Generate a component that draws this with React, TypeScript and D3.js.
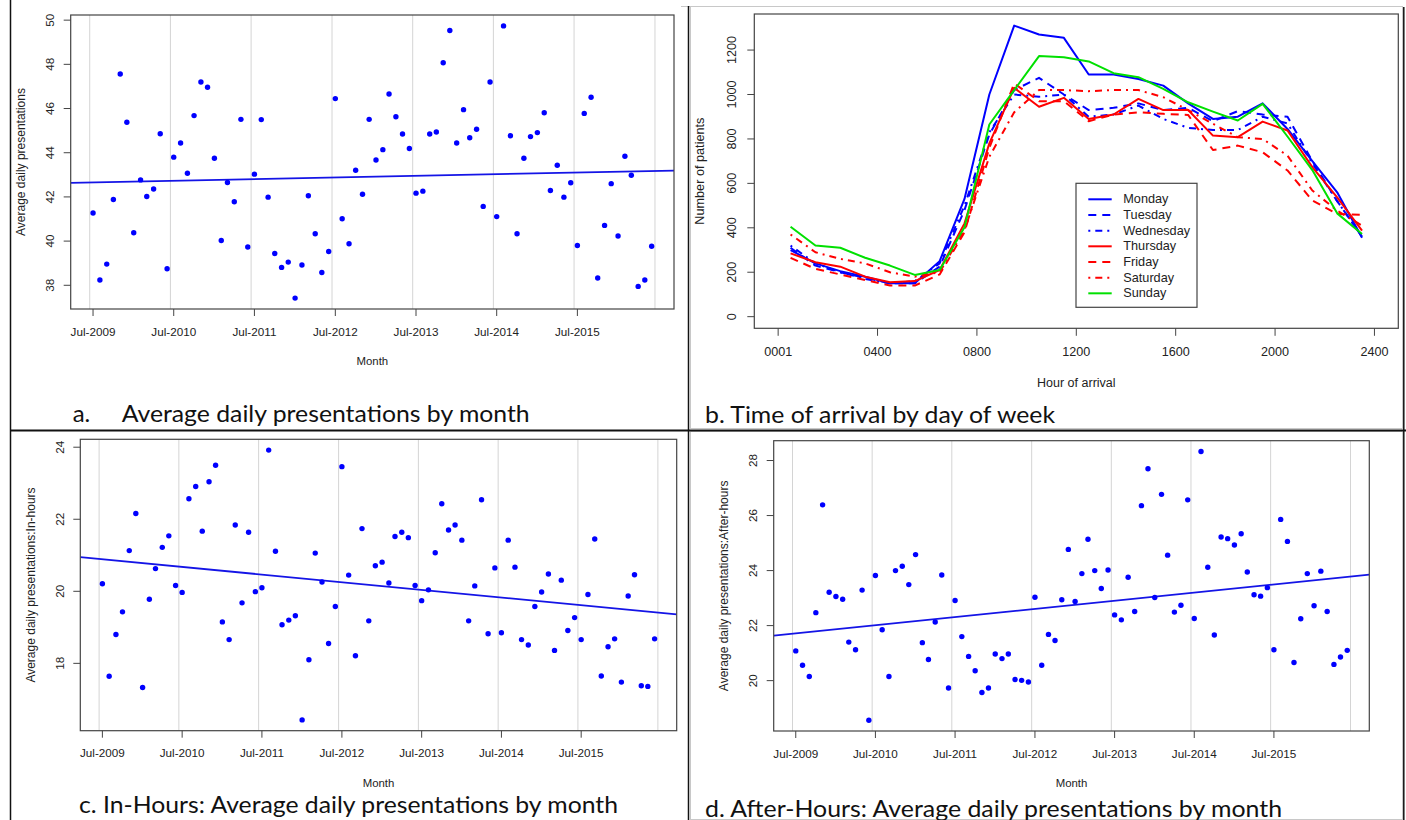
import React from 'react';
import * as d3 from 'd3';

// monthly series, Jul-2009 .. Jun-2016
const firstMonth = new Date(2009, 6, 1);
const yearTickLabels = ['Jul-2009', 'Jul-2010', 'Jul-2011', 'Jul-2012', 'Jul-2013', 'Jul-2014', 'Jul-2015'];

const dailyAll = [
    41.27, 38.24, 38.96, 41.88, 47.56, 45.38, 40.38, 42.77, 42.02, 42.36, 44.86, 38.75,
    43.8, 44.44, 43.07, 45.68, 47.2, 46.96, 43.75, 40.03, 42.65, 41.78, 45.51, 39.73,
    43.03, 45.5, 41.99, 39.44, 38.81, 39.05, 37.42, 38.92, 42.05, 40.33, 38.58, 39.53,
    46.45, 41.01, 39.88, 43.21, 42.12, 45.51, 43.67, 44.14, 46.66, 45.63, 44.85, 44.19,
    42.17, 42.26, 44.85, 44.94, 48.07, 49.53, 44.44, 45.95, 44.68, 45.06, 41.57, 47.2,
    41.11, 49.74, 44.77, 40.33, 43.75, 44.73, 44.91, 45.81, 42.29, 43.43, 41.99, 42.64,
    39.8, 45.78, 46.51, 38.33, 40.71, 42.6, 40.23, 43.84, 42.98, 37.95, 38.24, 39.77
];
const dailyInHours = [
    20.21, 17.64, 18.8, 19.43, 21.13, 22.16, 17.33, 19.78, 20.63, 21.22, 21.54, 20.16,
    19.97, 22.57, 22.91, 21.67, 23.04, 23.5, 19.15, 18.66, 21.84, 19.68, 21.64, 19.99,
    20.1, 23.92, 21.11, 19.07, 19.2, 19.32, 16.43, 18.1, 21.06, 20.26, 18.55, 19.58,
    23.46, 20.45, 18.21, 21.74, 19.18, 20.71, 20.81, 20.23, 21.52, 21.64, 21.49, 20.16,
    19.74, 20.04, 21.07, 22.43, 21.7, 21.84, 21.42, 19.18, 20.15, 22.54, 18.82, 20.65,
    18.85, 21.42, 20.67, 18.66, 18.51, 19.58, 19.98, 20.48, 18.36, 20.31, 18.91, 19.27,
    18.66, 19.91, 21.45, 17.65, 18.46, 18.68, 17.48, 19.87, 20.46, 17.38, 17.36, 18.68
];
const dailyAfterHours = [
    21.08, 20.56, 20.15, 22.47, 26.39, 23.21, 23.06, 22.96, 21.4, 21.12, 23.29, 18.56,
    23.82, 21.85, 20.15, 24.0, 24.16, 23.49, 24.58, 21.38, 20.77, 22.13, 23.84, 19.73,
    22.91, 21.6, 20.88, 20.36, 19.57, 19.73, 20.97, 20.8, 20.97, 20.04, 20.01, 19.95,
    23.03, 20.56, 21.68, 21.46, 22.94, 24.77, 22.88, 23.89, 25.14, 24.0, 23.35, 24.02,
    22.39, 22.21, 23.76, 22.51, 26.36, 27.7, 23.02, 26.77, 24.56, 22.49, 22.74, 26.57,
    22.26, 28.33, 24.12, 21.66, 25.22, 25.16, 24.93, 25.34, 23.95, 23.12, 23.07, 23.38,
    21.12, 25.86, 25.06, 20.66, 22.25, 23.89, 22.72, 23.98, 22.51, 20.59, 20.86, 21.1
];
// fitted line, value at first and last month
const trendAll = [42.66, 43.17];
const trendInHours = [20.89, 19.42];
const trendAfterHours = [21.72, 23.77];

const ticksAll = [38, 40, 42, 44, 46, 48, 50];
const ticksInHours = [18, 20, 22, 24];
const ticksAfterHours = [20, 22, 24, 26, 28];

// hourly arrivals, one value per hour (mid-hour)
const hourTickLabels = ['0001', '0400', '0800', '1200', '1600', '2000', '2400'];
const patientTicks = [0, 200, 400, 600, 800, 1000, 1200];
const dayNames = ['Monday', 'Tuesday', 'Wednesday', 'Thursday', 'Friday', 'Saturday', 'Sunday'];
const monday = [300, 240, 205, 180, 150, 150, 250, 530, 1000, 1310, 1270, 1255, 1090, 1090, 1070, 1040, 960, 890, 900, 960, 845, 700, 560, 355];
const tuesday = [310, 230, 200, 175, 150, 150, 225, 480, 820, 1020, 1075, 1000, 930, 940, 960, 930, 940, 880, 925, 910, 900, 700, 520, 360];
const wednesday = [320, 240, 200, 170, 150, 160, 240, 500, 830, 1000, 990, 1000, 900, 910, 950, 890, 850, 840, 840, 900, 870, 690, 520, 360];
const thursday = [285, 245, 225, 180, 155, 160, 210, 420, 780, 1030, 945, 985, 890, 910, 980, 930, 930, 815, 808, 878, 838, 673, 537, 387];
const friday = [265, 215, 190, 165, 140, 140, 190, 380, 760, 1050, 970, 970, 880, 910, 920, 913, 908, 750, 770, 740, 658, 523, 462, 458];
const saturday = [370, 290, 260, 240, 200, 180, 200, 390, 720, 920, 1020, 1020, 1015, 1020, 1020, 988, 930, 868, 808, 800, 725, 568, 477, 410];
const sunday = [405, 320, 310, 265, 230, 188, 210, 402, 865, 1020, 1173, 1168, 1149, 1096, 1078, 1025, 965, 923, 883, 958, 811, 660, 465, 372];
const daySeries = [monday, tuesday, wednesday, thursday, friday, saturday, sunday];

const AXIS_FONT = '"Liberation Sans", Arial, sans-serif';
const CAPTION_FONT = 'Lato, "Open Sans", sans-serif';
const TEXT = '#222';
const BOX = '#444';

const dayStyle = [
    { color: '#0000ff', dash: null },
    { color: '#0000ff', dash: '8,6' },
    { color: '#0000ff', dash: '2,5,7,5' },
    { color: '#ff0000', dash: null },
    { color: '#ff0000', dash: '8,6' },
    { color: '#ff0000', dash: '2,5,7,5' },
    { color: '#00e000', dash: null }
];

function ScatterPanel({ id, values, trend, yTicks, yLabel, box }) {
    const dates = values.map((_, i) => d3.timeMonth.offset(firstMonth, i));
    const t0 = +dates[0];
    const t1 = +dates[dates.length - 1];
    const padX = (t1 - t0) * 0.04;
    const x = d3
        .scaleTime()
        .domain([new Date(t0 - padX), new Date(t1 + padX)])
        .range([box.left, box.right]);
    const [lo, hi] = d3.extent(values);
    const padY = (hi - lo) * 0.04;
    const y = d3
        .scaleLinear()
        .domain([lo - padY, hi + padY])
        .range([box.bottom, box.top]);

    const trendAt = d3.scaleLinear().domain([t0, t1]).range(trend);
    const [d0, d1] = x.domain();

    const tickDates = yearTickLabels.map((_, i) => d3.timeMonth.offset(firstMonth, 12 * i));
    const gridDates = d3
        .range(yearTickLabels.length + 1)
        .map((i) => d3.timeDay.offset(d3.timeMonth.offset(firstMonth, 12 * i), -15));

    const midX = (box.left + box.right) / 2;
    const midY = (box.top + box.bottom) / 2;

    return (
        <g>
            <clipPath id={id}>
                <rect x={box.left} y={box.top} width={box.right - box.left} height={box.bottom - box.top} />
            </clipPath>
            <g clipPath={`url(#${id})`}>
                {gridDates.map((d, i) => (
                    <line key={i} x1={x(d)} x2={x(d)} y1={box.top} y2={box.bottom} stroke="#d4d4d4" strokeWidth={1} />
                ))}
                <line
                    x1={x(d0)}
                    x2={x(d1)}
                    y1={y(trendAt(+d0))}
                    y2={y(trendAt(+d1))}
                    stroke="#1414e6"
                    strokeWidth={1.8}
                />
                {values.map((v, i) => (
                    <circle key={i} cx={x(dates[i])} cy={y(v)} r={2.7} fill="#0000ff" />
                ))}
            </g>
            <rect
                x={box.left}
                y={box.top}
                width={box.right - box.left}
                height={box.bottom - box.top}
                fill="none"
                stroke={BOX}
                strokeWidth={1.2}
            />
            {yTicks.map((t) => (
                <g key={t}>
                    <line x1={box.left - 7} x2={box.left} y1={y(t)} y2={y(t)} stroke={BOX} />
                    <text
                        transform={`translate(${box.left - 21},${y(t)}) rotate(-90)`}
                        textAnchor="middle"
                        dominantBaseline="central"
                        fontFamily={AXIS_FONT}
                        fontSize={11.7}
                        fill={TEXT}
                    >
                        {t}
                    </text>
                </g>
            ))}
            {tickDates.map((d, i) => (
                <g key={i}>
                    <line x1={x(d)} x2={x(d)} y1={box.bottom} y2={box.bottom + 7} stroke={BOX} />
                    <text
                        x={x(d)}
                        y={box.bottom + 22}
                        textAnchor="middle"
                        dominantBaseline="central"
                        fontFamily={AXIS_FONT}
                        fontSize={11.7}
                        fill={TEXT}
                    >
                        {yearTickLabels[i]}
                    </text>
                </g>
            ))}
            <text
                transform={`translate(${box.left - 49.5},${midY}) rotate(-90)`}
                textAnchor="middle"
                dominantBaseline="central"
                fontFamily={AXIS_FONT}
                fontSize={12}
                fill={TEXT}
            >
                {yLabel}
            </text>
            <text
                x={midX}
                y={box.bottom + 52}
                textAnchor="middle"
                dominantBaseline="central"
                fontFamily={AXIS_FONT}
                fontSize={11.4}
                fill={TEXT}
            >
                Month
            </text>
        </g>
    );
}

function ArrivalPanel({ box }) {
    const x = d3
        .scaleLinear()
        .domain([-0.96, 24.96])
        .range([box.left, box.right]);
    const maxV = d3.max(daySeries, (s) => d3.max(s));
    const y = d3
        .scaleLinear()
        .domain([-maxV * 0.04, maxV * 1.04])
        .range([box.bottom, box.top]);
    const line = d3
        .line()
        .x((d, i) => x(i + 0.5))
        .y((d) => y(d));

    const hourTicks = hourTickLabels.map((_, i) => i * 4);
    const legend = { left: 1076, top: 183.3, right: 1197, bottom: 307.3 };

    return (
        <g>
            {daySeries.map((s, i) => (
                <path
                    key={dayNames[i]}
                    d={line(s)}
                    fill="none"
                    stroke={dayStyle[i].color}
                    strokeWidth={2}
                    strokeDasharray={dayStyle[i].dash || undefined}
                    strokeLinejoin="round"
                />
            ))}
            <rect
                x={box.left}
                y={box.top}
                width={box.right - box.left}
                height={box.bottom - box.top}
                fill="none"
                stroke={BOX}
                strokeWidth={1.2}
            />
            {patientTicks.map((t) => (
                <g key={t}>
                    <line x1={box.left - 7} x2={box.left} y1={y(t)} y2={y(t)} stroke={BOX} />
                    <text
                        transform={`translate(${box.left - 22.6},${y(t)}) rotate(-90)`}
                        textAnchor="middle"
                        dominantBaseline="central"
                        fontFamily={AXIS_FONT}
                        fontSize={12.6}
                        fill={TEXT}
                    >
                        {t}
                    </text>
                </g>
            ))}
            {hourTicks.map((h, i) => (
                <g key={h}>
                    <line x1={x(h)} x2={x(h)} y1={box.bottom} y2={box.bottom + 7.5} stroke={BOX} />
                    <text
                        x={x(h)}
                        y={box.bottom + 23.4}
                        textAnchor="middle"
                        dominantBaseline="central"
                        fontFamily={AXIS_FONT}
                        fontSize={12.6}
                        fill={TEXT}
                    >
                        {hourTickLabels[i]}
                    </text>
                </g>
            ))}
            <text
                transform={`translate(${box.left - 54},${(box.top + box.bottom) / 2}) rotate(-90)`}
                textAnchor="middle"
                dominantBaseline="central"
                fontFamily={AXIS_FONT}
                fontSize={12.7}
                fill={TEXT}
            >
                Number of patients
            </text>
            <text
                x={(box.left + box.right) / 2}
                y={box.bottom + 55}
                textAnchor="middle"
                dominantBaseline="central"
                fontFamily={AXIS_FONT}
                fontSize={12.5}
                fill={TEXT}
            >
                Hour of arrival
            </text>
            <rect
                x={legend.left}
                y={legend.top}
                width={legend.right - legend.left}
                height={legend.bottom - legend.top}
                fill="#fff"
                stroke={BOX}
                strokeWidth={1.2}
            />
            {dayNames.map((name, i) => {
                const ly = legend.top + 16 + i * 15.67;
                return (
                    <g key={name}>
                        <line
                            x1={legend.left + 12.3}
                            x2={legend.left + 35.7}
                            y1={ly}
                            y2={ly}
                            stroke={dayStyle[i].color}
                            strokeWidth={2}
                            strokeDasharray={dayStyle[i].dash || undefined}
                        />
                        <text
                            x={legend.left + 47.3}
                            y={ly}
                            dominantBaseline="central"
                            fontFamily={AXIS_FONT}
                            fontSize={12.7}
                            fill={TEXT}
                        >
                            {name}
                        </text>
                    </g>
                );
            })}
        </g>
    );
}

function Caption({ x, y, width, children }) {
    return (
        <text
            x={x}
            y={y}
            fontFamily={CAPTION_FONT}
            fontSize={24}
            fill="#111"
            textLength={width}
            lengthAdjust={width ? 'spacingAndGlyphs' : undefined}
        >
            {children}
        </text>
    );
}

export default function App() {
    return (
        <svg
            width={1406}
            height={820}
            style={{ position: 'absolute', left: 0, top: 0, display: 'block', background: '#fff' }}
        >
            <rect x={0} y={0} width={1406} height={820} fill="#fff" />

            {/* panel image borders */}
            <line x1={681} x2={1403} y1={6.5} y2={6.5} stroke="#c8c8c8" />
            <rect x={690.5} y={6.5} width={712} height={422} fill="none" stroke="#c8c8c8" />
            <rect x={690.5} y={431.5} width={712} height={388} fill="none" stroke="#c8c8c8" />

            <ScatterPanel
                id="clip-a"
                values={dailyAll}
                trend={trendAll}
                yTicks={ticksAll}
                yLabel="Average daily presentations"
                box={{ left: 70.7, top: 15, right: 674, bottom: 309 }}
            />
            <ArrivalPanel box={{ left: 754.3, top: 14, right: 1398.3, bottom: 328.3 }} />
            <ScatterPanel
                id="clip-c"
                values={dailyInHours}
                trend={trendInHours}
                yTicks={ticksInHours}
                yLabel="Average daily presentations:In-hours"
                box={{ left: 80.3, top: 439.3, right: 676.7, bottom: 730.7 }}
            />
            <ScatterPanel
                id="clip-d"
                values={dailyAfterHours}
                trend={trendAfterHours}
                yTicks={ticksAfterHours}
                yLabel="Average daily presentations:After-hours"
                box={{ left: 773.7, top: 440.7, right: 1369.3, bottom: 731 }}
            />

            <Caption x={72.7} y={421.5}>a.</Caption>
            <Caption x={121.7} y={421.5} width={408}>Average daily presentations by month</Caption>
            <Caption x={705} y={422.5} width={350}>b. Time of arrival by day of week</Caption>
            <Caption x={79} y={813.3} width={539}>c. In-Hours: Average daily presentations by month</Caption>
            <Caption x={705} y={816.5} width={577}>d. After-Hours: Average daily presentations by month</Caption>

            {/* table rules */}
            <line x1={10.5} x2={10.5} y1={0} y2={820} stroke="#111" strokeWidth={1.5} />
            <line x1={688.5} x2={688.5} y1={6} y2={820} stroke="#111" strokeWidth={1.5} />
            <line x1={10} x2={1406} y1={430.5} y2={430.5} stroke="#111" strokeWidth={1.8} />
            <line x1={1403.8} x2={1403.8} y1={7} y2={820} stroke="#111" strokeWidth={1.5} />
        </svg>
    );
}
